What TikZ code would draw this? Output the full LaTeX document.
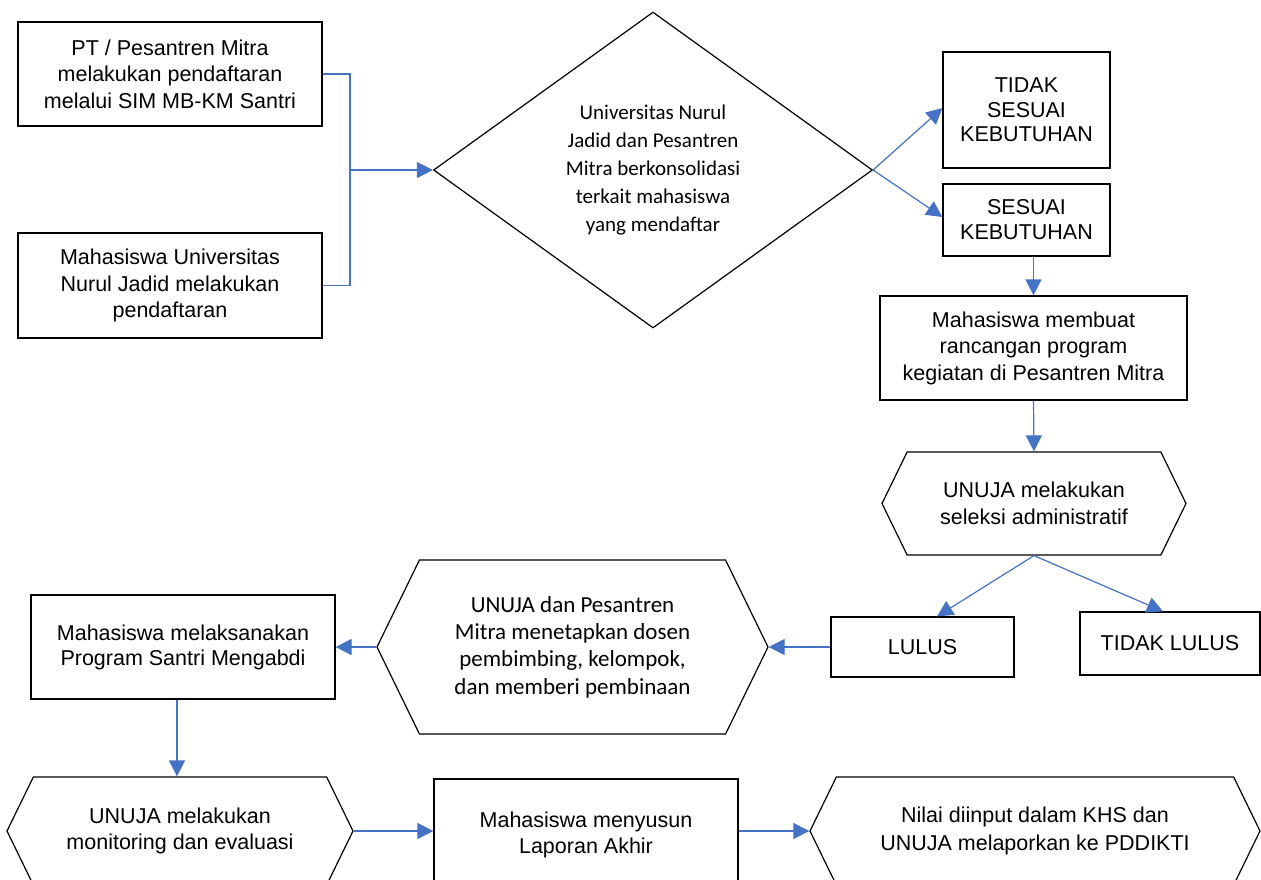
\documentclass[tikz,border=0pt]{standalone}
\usepackage{fontspec}
\setmainfont{Liberation Sans}
\newfontfamily\calibri{Carlito}
\usetikzlibrary{arrows.meta,shapes.geometric,shapes.symbols}
\definecolor{lineblue}{HTML}{4472C4}
\tikzset{
	box/.style={draw=black, line width=1.2pt, align=center, inner sep=0pt, font=\fontsize{21.5}{26.5}\selectfont},
	hexbox/.style={box, shape=signal, signal to=west and east, signal pointer angle=128},
	flow/.style={draw=lineblue, line width=1.2pt, -{Triangle[length=16pt,width=16pt]}},
	link/.style={draw=lineblue, line width=1.2pt},
}

\begin{document}
\begin{tikzpicture}[x=1pt, y=-1pt]
		%%%%% START %%%%%
		\useasboundingbox (0, 0) rectangle (1261, 879);
		
		\node[box, minimum width=304, minimum height=104] (mitra) at (170, 74) {PT / Pesantren Mitra\\melakukan pendaftaran\\melalui SIM MB-KM Santri};
		\node[box, minimum width=304, minimum height=105] (mhs) at (170, 285.5) {Mahasiswa Universitas\\Nurul Jadid melakukan\\pendaftaran};
		\node[box, shape=diamond, aspect=1.39, minimum width=439, minimum height=316, font=\calibri\fontsize{21}{28}\selectfont] (konsol) at (653, 170) {Universitas Nurul\\Jadid dan Pesantren\\Mitra berkonsolidasi\\terkait mahasiswa\\yang mendaftar};
		
		\node[box, minimum width=167, minimum height=116, font=\fontsize{21.5}{24.5}\selectfont] (tidaksesuai) at (1026.5, 110) {TIDAK\\SESUAI\\KEBUTUHAN};
		\node[box, minimum width=167, minimum height=72, font=\fontsize{21.5}{25}\selectfont] (sesuai) at (1026.5, 220) {SESUAI\\KEBUTUHAN};
		\node[box, minimum width=307, minimum height=104] (rancang) at (1033.5, 348) {Mahasiswa membuat\\rancangan program\\kegiatan di Pesantren Mitra};
		\node[hexbox, minimum width=304, minimum height=103, font=\fontsize{21.5}{27}\selectfont] (seleksi) at (1034, 503.5) {UNUJA melakukan\\seleksi administratif};
		
		\node[box, minimum width=183, minimum height=60] (lulus) at (922.5, 647) {LULUS};
		\node[box, minimum width=180, minimum height=63] (tidaklulus) at (1170, 643.5) {TIDAK LULUS};
		\node[hexbox, minimum width=391, minimum height=174, font=\calibri\fontsize{23}{27.3}\selectfont] (bimbing) at (572.5, 647) {UNUJA dan Pesantren\\Mitra menetapkan dosen\\pembimbing, kelompok,\\dan memberi pembinaan};
		\node[box, minimum width=304, minimum height=104, font=\fontsize{21.5}{25}\selectfont] (laksana) at (183, 647) {Mahasiswa melaksanakan\\Program Santri Mengabdi};
		
		\node[hexbox, minimum width=346, minimum height=108] (monev) at (180, 831) {UNUJA melakukan\\monitoring dan evaluasi};
		\node[box, minimum width=304, minimum height=112] (laporan) at (586, 835) {Mahasiswa menyusun\\Laporan Akhir};
		\node[hexbox, minimum width=450, minimum height=108, font=\fontsize{21.5}{28}\selectfont] (nilai) at (1035, 831) {Nilai diinput dalam KHS dan\\UNUJA melaporkan ke PDDIKTI};
		
		% pendaftaran -> konsolidasi
		\coordinate (gabung) at (350, 170);
		\draw[link] (mitra.east) -| (gabung);
		\draw[link] (mhs.east) -| (gabung);
		\draw[flow] (gabung) -- (konsol.west);
		
		\draw[flow] (konsol.east) -- ([yshift=2]tidaksesuai.west);
		\draw[flow] (konsol.east) -- ([yshift=3]sesuai.west);
		\draw[flow] (rancang.north |- sesuai.south) -- (rancang.north);
		\draw[flow] (rancang.south) -- (seleksi.north);
		\draw[flow] (seleksi.south) -- ([xshift=14.5]lulus.north);
		\draw[flow] (seleksi.south) -- ([xshift=-7]tidaklulus.north);
		
		\draw[flow] (lulus.west) -- (bimbing.east);
		\draw[flow] (bimbing.west) -- (laksana.east);
		\draw[flow] ([xshift=-6]laksana.south) -- ([xshift=-6]laksana.south |- monev.north);
		
		\draw[flow] (monev.east) -- (monev.east -| laporan.west);
		\draw[flow] (monev.east -| laporan.east) -- (nilai.west);
		
		%%%%% END %%%%%
	\end{tikzpicture}
\end{document}
